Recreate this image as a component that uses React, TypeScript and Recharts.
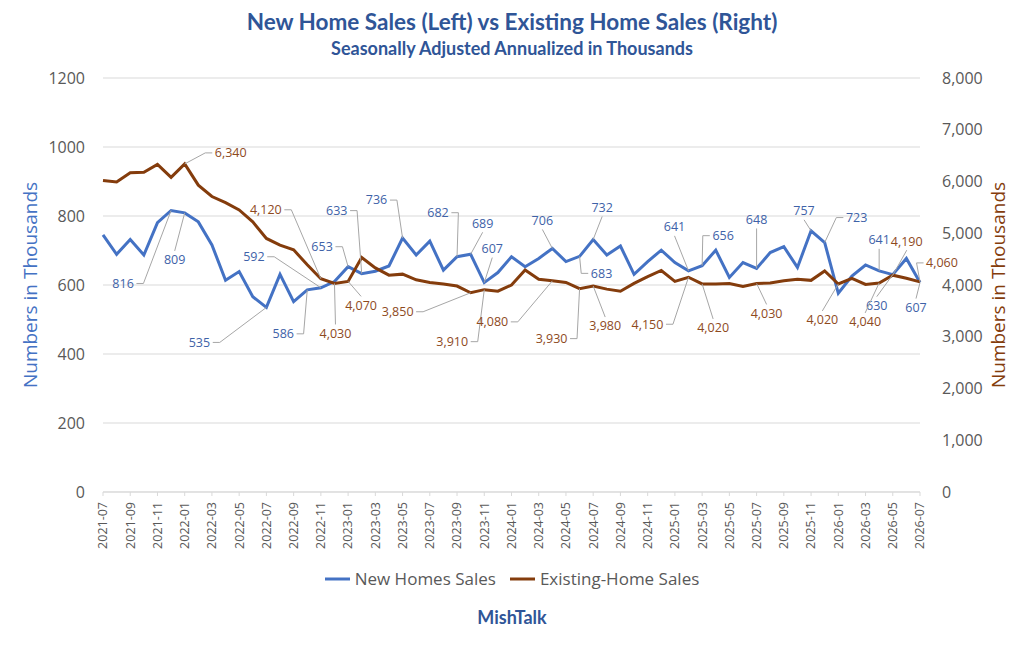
import React from 'react';
import { LineChart, Line, XAxis, YAxis, CartesianGrid, Legend, LabelList } from 'recharts';

const months = [
  '2021-07', '2021-08', '2021-09', '2021-10', '2021-11', '2021-12',
  '2022-01', '2022-02', '2022-03', '2022-04', '2022-05', '2022-06',
  '2022-07', '2022-08', '2022-09', '2022-10', '2022-11', '2022-12',
  '2023-01', '2023-02', '2023-03', '2023-04', '2023-05', '2023-06',
  '2023-07', '2023-08', '2023-09', '2023-10', '2023-11', '2023-12',
  '2024-01', '2024-02', '2024-03', '2024-04', '2024-05', '2024-06',
  '2024-07', '2024-08', '2024-09', '2024-10', '2024-11', '2024-12',
  '2025-01', '2025-02', '2025-03', '2025-04', '2025-05', '2025-06',
  '2025-07', '2025-08', '2025-09', '2025-10', '2025-11', '2025-12',
  '2026-01', '2026-02', '2026-03', '2026-04', '2026-05', '2026-06',
  '2026-07',
];

const newHomeSales = [
  745, 689, 732, 687, 781, 816,
  809, 783, 716, 614, 639, 566,
  535, 631, 552, 586, 592, 610,
  653, 633, 640, 655, 736, 687,
  727, 643, 682, 689, 607, 636,
  682, 653, 677, 706, 668, 683,
  732, 687, 713, 631, 668, 701,
  665, 641, 656, 701, 622, 665,
  648, 694, 711, 651, 757, 723,
  576, 626, 658, 641, 630, 677,
  607,
];

const existingHomeSales = [
  6020, 5990, 6170, 6180, 6330, 6080,
  6340, 5930, 5710, 5590, 5450, 5220,
  4900, 4770, 4680, 4390, 4120, 4030,
  4070, 4530, 4330, 4190, 4210, 4100,
  4050, 4020, 3980, 3850, 3910, 3880,
  4000, 4290, 4110, 4080, 4050, 3930,
  3980, 3920, 3880, 4030, 4160, 4280,
  4070, 4150, 4020, 4020, 4030, 3970,
  4030, 4040, 4080, 4110, 4090, 4270,
  4020, 4130, 4010, 4040, 4190, 4130,
  4060,
];

const leftTicks = [0, 200, 400, 600, 800, 1000, 1200];
const rightTicks = [0, 1000, 2000, 3000, 4000, 5000, 6000, 7000, 8000];

// label placement: index of month, offset of label centre from the point
const newLabelPlacement: [number, number, number][] = [
  [5, -48, 73], [6, -10, 47], [12, -67, 35], [15, -24, 44], [16, -67, -31],
  [18, -26, -20], [19, -25, -63], [22, -26, -38], [26, -19, -44], [27, 12, -31],
  [28, 8, -34], [33, -10, -28], [35, 22, 17], [36, 9, -32], [43, -14, -44],
  [44, 21, -30], [48, 0, -49], [52, -7, -20], [53, 32, -25], [57, 0, -31],
  [58, -16, 31], [60, -4, 25],
];

const existingLabelPlacement: [number, number, number][] = [
  [6, 46, -11], [16, -55, -69], [17, 1, 50], [18, 13, 24], [27, -73, 19],
  [28, -32, 52], [33, -60, 41], [35, -28, 50], [36, 12, 40], [43, -41, 47],
  [44, 11, 44], [48, 10, 30], [54, -16, 36], [57, -14, 39], [58, 14, -34],
  [60, 22, -19],
];

const data = months.map((m, i) => ({
  month: m,
  newSales: newHomeSales[i],
  existing: existingHomeSales[i],
}));

const BLUE = '#4472C4';
const BROWN = '#843C0C';
const TITLE_BLUE = '#2F5597';
const GRAY = '#595959';
const FONT = '"Open Sans", "Liberation Sans", sans-serif';
const TITLE_FONT = 'Lato, "Open Sans", sans-serif';

const fmt = (v: number) => v.toLocaleString('en-US');

function makeLabel(placement: [number, number, number][], color: string) {
  const map = new Map<number, [number, number]>();
  placement.forEach(([i, dx, dy]) => map.set(i, [dx, dy]));
  return (props: any) => {
    const { x, y, value, index } = props;
    const off = map.get(index);
    if (!off || x == null || y == null) return null;
    const [dx, dy] = off;
    const text = fmt(Number(value));
    const digits = text.replace(/,/g, '').length;
    const commas = text.length - digits;
    const halfW = (digits * 6.9 + commas * 3.3) / 2;
    const cx = x + dx;
    const cy = y + dy;
    let path: string;
    if (Math.abs(dx) > halfW + 6) {
      const s = Math.sign(dx);
      const sx = cx - s * (halfW + 3);
      const tx = sx - s * 7;
      path = `M${sx},${cy} L${tx},${cy} L${x},${y}`;
    } else {
      const s = Math.sign(dy);
      const sy = cy - s * 9;
      path = `M${cx},${sy} L${x},${y}`;
    }
    return (
      <g>
        <path d={path} stroke="#A6A6A6" strokeWidth={1} fill="none" />
        <text x={cx} y={cy} dy="0.35em" textAnchor="middle" fontSize={12.5} fontFamily={FONT} fill={color}>
          {text}
        </text>
      </g>
    );
  };
}

const XTick = (props: any) => {
  const { x, y, payload } = props;
  return (
    <g transform={`translate(${x},${y})`}>
      <text transform="rotate(-90)" textAnchor="end" dy="0.35em" fontSize={12.5} fontFamily={FONT} fill={GRAY}>
        {payload.value}
      </text>
    </g>
  );
};

const renderLegend = () => (
  <div style={{ display: 'flex', justifyContent: 'center', fontFamily: FONT, fontSize: 17, color: GRAY }}>
    <div style={{ display: 'flex', alignItems: 'center', marginRight: 14 }}>
      <svg width={25} height={10}><line x1={0} y1={5} x2={25} y2={5} stroke={BLUE} strokeWidth={3} /></svg>
      <span style={{ marginLeft: 5 }}>New Homes Sales</span>
    </div>
    <div style={{ display: 'flex', alignItems: 'center' }}>
      <svg width={25} height={10}><line x1={0} y1={5} x2={25} y2={5} stroke={BROWN} strokeWidth={3} /></svg>
      <span style={{ marginLeft: 5 }}>Existing-Home Sales</span>
    </div>
  </div>
);

export default function App() {
  return (
    <div style={{ position: 'absolute', left: 0, top: 0, width: 1024, height: 659, background: '#fff', overflow: 'hidden' }}>
      <div style={{ position: 'absolute', top: 8, left: 0, width: 1024, textAlign: 'center', fontFamily: TITLE_FONT, fontWeight: 700, fontSize: 22.5, lineHeight: '28px', color: TITLE_BLUE }}>
        New Home Sales (Left) vs Existing Home Sales (Right)
      </div>
      <div style={{ position: 'absolute', top: 37, left: 0, width: 1024, textAlign: 'center', fontFamily: TITLE_FONT, fontWeight: 700, fontSize: 18, lineHeight: '22px', color: TITLE_BLUE }}>
        Seasonally Adjusted Annualized in Thousands
      </div>
      <div style={{ position: 'absolute', left: 30, top: 285, transform: 'translate(-50%, -50%) rotate(-90deg)', whiteSpace: 'nowrap', fontFamily: FONT, fontSize: 19, color: BLUE }}>
        Numbers in Thousands
      </div>
      <div style={{ position: 'absolute', left: 998, top: 285, transform: 'translate(-50%, -50%) rotate(-90deg)', whiteSpace: 'nowrap', fontFamily: FONT, fontSize: 19, color: BROWN }}>
        Numbers in Thousands
      </div>
      <div style={{ position: 'absolute', top: 606, left: 0, width: 1024, textAlign: 'center', fontFamily: TITLE_FONT, fontWeight: 700, fontSize: 18, lineHeight: '22px', color: TITLE_BLUE }}>
        MishTalk
      </div>
      <LineChart width={1024} height={659} data={data} margin={{ top: 78, right: 44, left: 43, bottom: 107 }}>
        <CartesianGrid yAxisId="left" vertical={false} stroke="#D9D9D9" strokeWidth={1} />
        <XAxis
          dataKey="month"
          interval={1}
          tick={<XTick />}
          tickSize={4}
          tickMargin={6}
          height={60}
          axisLine={{ stroke: '#D9D9D9' }}
          tickLine={{ stroke: '#D9D9D9' }}
        />
        <YAxis
          yAxisId="left"
          orientation="left"
          domain={[0, 1200]}
          ticks={leftTicks}
          width={60}
          axisLine={false}
          tickLine={false}
          tickSize={6}
          tickMargin={12}
          tick={{ fill: GRAY, fontSize: 16, fontFamily: FONT }}
        />
        <YAxis
          yAxisId="right"
          orientation="right"
          domain={[0, 8000]}
          ticks={rightTicks}
          width={60}
          axisLine={false}
          tickLine={false}
          tickSize={6}
          tickMargin={16}
          tickFormatter={fmt}
          tick={{ fill: GRAY, fontSize: 16, fontFamily: FONT }}
        />
        <Legend verticalAlign="middle" align="center" layout="horizontal" content={renderLegend} wrapperStyle={{ top: 567, left: 0, width: 1024 }} />
        <Line
          yAxisId="left"
          type="linear"
          dataKey="newSales"
          name="New Homes Sales"
          stroke={BLUE}
          strokeWidth={3}
          dot={false}
          isAnimationActive={false}
        >
          <LabelList dataKey="newSales" content={makeLabel(newLabelPlacement, '#3E62A8')} />
        </Line>
        <Line
          yAxisId="right"
          type="linear"
          dataKey="existing"
          name="Existing-Home Sales"
          stroke={BROWN}
          strokeWidth={3}
          dot={false}
          isAnimationActive={false}
        >
          <LabelList dataKey="existing" content={makeLabel(existingLabelPlacement, '#8E4A1E')} />
        </Line>
      </LineChart>
    </div>
  );
}
